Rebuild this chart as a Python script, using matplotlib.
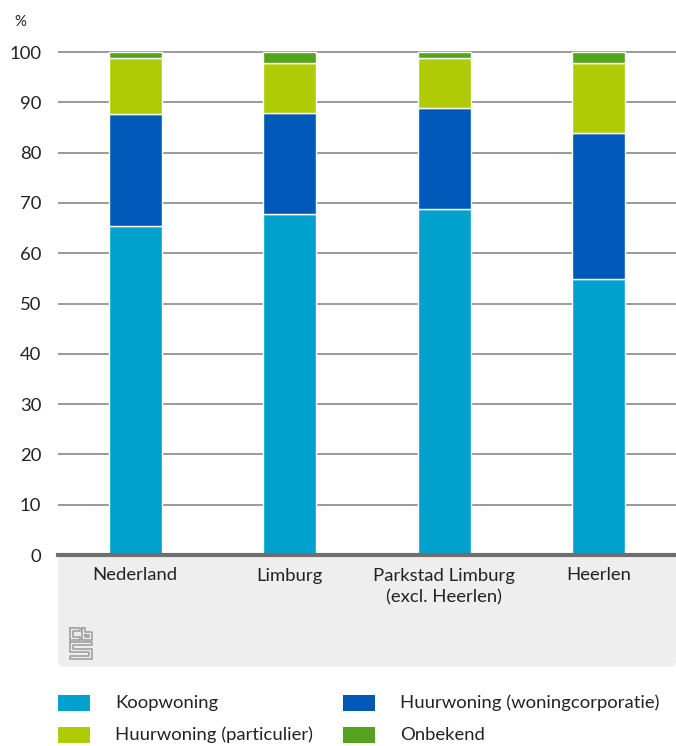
import matplotlib.pyplot as plt
import numpy as np
from matplotlib.patches import Rectangle, FancyBboxPatch
from matplotlib.transforms import Affine2D

# Data (percentages)
categories = ["Nederland", "Limburg", "Parkstad Limburg\n(excl. Heerlen)", "Heerlen"]
series_names = ["Koopwoning", "Huurwoning (woningcorporatie)",
                "Huurwoning (particulier)", "Onbekend"]
koopwoning = [65.5, 67.8, 68.8, 54.9]
huur_corporatie = [22.2, 20.1, 20.0, 28.9]
huur_particulier = [11.1, 9.9, 10.1, 14.1]
onbekend = [1.2, 2.2, 1.1, 2.1]
yticks = [0, 10, 20, 30, 40, 50, 60, 70, 80, 90, 100]

colors = ["#00a1cd", "#0058b8", "#afcb05", "#53a31d"]
values = [koopwoning, huur_corporatie, huur_particulier, onbekend]

plt.rcParams['font.family'] = ['Lato', 'DejaVu Sans']
fs = 13.3
W, H = 676, 746
fig = plt.figure(figsize=(W / 100, H / 100), dpi=100)

# pixel -> figure coords helper
px = Affine2D().scale(1 / W, -1 / H).translate(0, 1) + fig.transFigure

# grey panel under the axis (category label area)
panel = FancyBboxPatch((58, 555), 618, 112, boxstyle="round,pad=0,rounding_size=6",
                       transform=px, facecolor="#eeeeee", edgecolor="none", zorder=-5)
fig.patches.append(panel)

ax = fig.add_axes([58 / W, 1 - 555 / H, 618 / W, (555 - 49.5) / H])
ax.set_facecolor("none")

x = np.arange(len(categories))
bottom = np.zeros(len(categories))
for vals, col, name in zip(values, colors, series_names):
    ax.bar(x, vals, width=0.34, bottom=bottom, color=col, edgecolor="white",
           linewidth=1.0, label=name, zorder=3)
    bottom += np.array(vals)

ax.set_xlim(-0.5, 3.5)
ax.set_ylim(0, 100.5)
ax.set_yticks(yticks)
ax.set_yticklabels([str(t) for t in yticks], fontsize=fs, color="#222222")
ax.yaxis.grid(True, color="#9a9a9a", linewidth=1.4, zorder=0)
ax.set_axisbelow(True)
ax.tick_params(axis="y", length=0, pad=12)
ax.tick_params(axis="x", length=0, pad=9)
ax.set_xticks(x)
ax.set_xticklabels(categories, fontsize=fs, color="#222222", linespacing=1.45)
for s in ["top", "right", "left"]:
    ax.spines[s].set_visible(False)
ax.spines["bottom"].set_color("#6e6e6e")
ax.spines["bottom"].set_linewidth(3)
ax.spines["bottom"].set_zorder(5)

fig.text(14 / W, 1 - 22 / H, "%", fontsize=fs - 2.5, color="#222222", va="center")

# rough cbs logo
logo_col = "#a0a0a0"
lx, ly = 70, 628
segs = [
    [(0, 0), (10, 0), (10, 3), (3, 3), (3, 9), (10, 9), (10, 12), (0, 12), (0, 0)],
    [(12, 0), (15, 0), (15, 4), (22, 4), (22, 12), (12, 12), (12, 0)],
    [(15, 7), (19, 7), (19, 9), (15, 9), (15, 7)],
    [(0, 14), (22, 14), (22, 17), (3, 17), (3, 21), (22, 21), (22, 31), (0, 31),
     (0, 28), (19, 28), (19, 24), (0, 24), (0, 14)],
]
for seg in segs:
    sx = [lx + p[0] for p in seg]
    sy = [ly + p[1] for p in seg]
    fig.add_artist(plt.Line2D(sx, sy, transform=px, color=logo_col, linewidth=1.2))

# legend
leg_items = [(0, 58, 703), (1, 343, 703), (2, 58, 735), (3, 343, 735)]
for i, lxp, lyp in leg_items:
    fig.patches.append(Rectangle((lxp, lyp - 8), 32, 16, transform=px,
                                 facecolor=colors[i], edgecolor="none"))
    fig.text((lxp + 57) / W, 1 - lyp / H, series_names[i], fontsize=fs,
             color="#222222", va="center", ha="left")

fig.savefig("out.png", dpi=100)
